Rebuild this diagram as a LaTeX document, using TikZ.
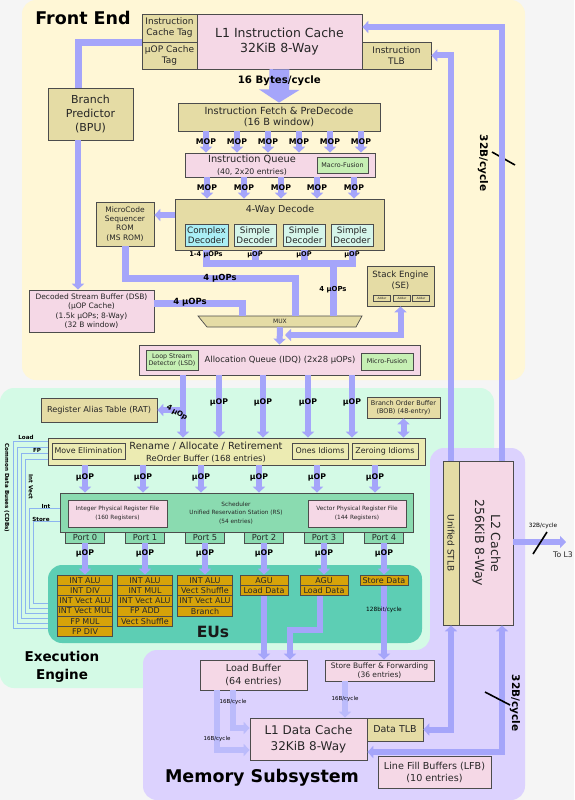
\documentclass[tikz,border=0pt]{standalone}
\usepackage{fontspec}
\setmainfont{DejaVu Sans}
\usetikzlibrary{arrows.meta}

\definecolor{frontbg}{HTML}{FFF7D6}
\definecolor{execbg}{HTML}{D4FAE6}
\definecolor{membg}{HTML}{DCD2FE}
\definecolor{boxpink}{HTML}{F5D8E6}
\definecolor{boxtan}{HTML}{E5DCA5}
\definecolor{boxrob}{HTML}{ECEBB2}
\definecolor{boxlime}{HTML}{C6EFB4}
\definecolor{boxcyan}{HTML}{AAEEF5}
\definecolor{boxmint}{HTML}{D5F5EA}
\definecolor{boxsched}{HTML}{8ADBB0}
\definecolor{eubg}{HTML}{5DCEB4}
\definecolor{eugold}{HTML}{D6A309}
\definecolor{flowc}{HTML}{A5A5FA}
\definecolor{cdbc}{HTML}{8CB4F0}

\newcommand{\fsz}[2]{\fontsize{#1}{#2}\selectfont}

\begin{document}
\begin{tikzpicture}[x=1pt, y=-1pt]
            \tikzset{box/.style = {draw=black!70, line width=0.7pt, inner sep=0pt, align=center, text=black!85}}
            \tikzset{sz/.style 2 args = {minimum width=#1pt, minimum height=#2pt}}
            \tikzset{pinkbox/.style = {box, fill=boxpink}}
            \tikzset{tanbox/.style = {box, fill=boxtan}}
            \tikzset{robbox/.style = {box, fill=boxrob}}
            \tikzset{limebox/.style = {box, fill=boxlime}}
            \tikzset{schedbox/.style = {box, fill=boxsched}}
            \tikzset{eubox/.style = {box, fill=eugold, sz={55}{10.3}, font=\fsz{8}{9}}}
            \tikzset{txt/.style = {inner sep=0pt, align=center, text=black!85}}
            \tikzset{title/.style = {inner sep=0pt, align=center, font=\bfseries\fsz{17.5}{19}}}
            \tikzset{flow/.style = {draw=flowc, line width=6pt, -{Triangle[length=6pt, width=12pt]}}}
            \tikzset{flowboth/.style = {draw=flowc, line width=6pt, {Triangle[length=6pt, width=12pt]}-{Triangle[length=6pt, width=12pt]}}}
            \tikzset{flowlt/.style = {flow, draw=flowc!75}}
            \tikzset{bus/.style = {draw=flowc, line width=7pt}}
            \tikzset{cdb/.style = {draw=cdbc, line width=0.8pt}}
            \tikzset{lbl/.style = {inner sep=0pt, font=\bfseries\fsz{7.8}{8}}}
            \tikzset{tinylbl/.style = {inner sep=0pt, font=\fsz{5.5}{6}}}
            \tikzset{slash/.style = {draw=black, line width=1.6pt}}

            \useasboundingbox (0,0) rectangle (574,800);
            \fill[black!4] (0,0) rectangle (574,800);

            % regions
            \fill[frontbg, rounded corners=14pt] (22,0) rectangle (525,380);
            \fill[execbg, rounded corners=14pt] (0,388) rectangle (494,688);
            \fill[membg, rounded corners=14pt] (430,448) -- (525,448) -- (525,800)
                -- (143,800) -- (143,650) -- (430,650) -- cycle;

            \node[title] (fe-t) at (83,18) {Front End};
            \node[title, font=\bfseries\fsz{13.5}{18}] (ee-t) at (62,667) {Execution\\Engine};
            \node[title] (ms-t) at (262,778) {Memory Subsystem};

            % front end boxes
            \node[tanbox, sz={55}{28}, font=\fsz{9}{11}] (ictag) at (169.5,28) {Instruction\\Cache Tag};
            \node[tanbox, sz={55}{27}, font=\fsz{9}{11}] (uoptag) at (169.5,55.5) {µOP Cache\\Tag};
            \node[pinkbox, sz={165}{55}, font=\fsz{12.5}{15}] (l1i) at (279.5,41.5) {L1 Instruction Cache\\32KiB 8-Way};
            \node[tanbox, sz={69}{27}, font=\fsz{9}{11}] (itlb) at (396.5,55.5) {Instruction\\TLB};
            \node[tanbox, sz={85}{52}, font=\fsz{11}{14}] (bpu) at (90.5,114) {Branch\\Predictor\\(BPU)};
            \node[tanbox, sz={202}{28}, font=\fsz{9.8}{11}] (fetch) at (279,117) {Instruction Fetch \& PreDecode\\(16 B window)};
            \node[pinkbox, sz={190}{24}] (iq) at (280,165) {};
            \node[txt] (iq-t) at (252,165) {{\fsz{9.8}{10}Instruction Queue}\\{\fsz{7.8}{8.5}(40, 2x20 entries)}};
            \node[limebox, sz={51}{16}, font=\fsz{6.4}{7}] (macrofus) at (342.5,165) {Macro-Fusion};
            \node[tanbox, sz={209}{51}] (decode) at (279.5,224.5) {};
            \node[txt, font=\fsz{9.5}{10}] (decode-t) at (280,210) {4-Way Decode};
            \node[box, fill=boxcyan, sz={43}{22}, font=\fsz{8.8}{10}] (cplx) at (206.5,235) {Complex\\Decoder};
            \node[box, fill=boxmint, sz={42}{22}, font=\fsz{8.8}{10}] (simp1) at (255,235) {Simple\\Decoder};
            \node[box, fill=boxmint, sz={42}{22}, font=\fsz{8.8}{10}] (simp2) at (304,235) {Simple\\Decoder};
            \node[box, fill=boxmint, sz={42}{22}, font=\fsz{8.8}{10}] (simp3) at (352,235) {Simple\\Decoder};
            \node[tanbox, sz={58}{44}, font=\fsz{7.5}{9.2}] (msrom) at (125,224) {MicroCode\\Sequencer\\ROM\\(MS ROM)};
            \node[pinkbox, sz={125}{42}, font=\fsz{7.5}{9.5}] (dsb) at (91.5,311) {Decoded Stream Buffer (DSB)\\(µOP Cache)\\(1.5k µOPs; 8-Way)\\(32 B window)};
            \fill[boxtan, draw=black!70, line width=0.7pt] (198,316) -- (362,316) -- (356,327) -- (207,327) -- cycle;
            \node[txt, sz={164}{11}, font=\fsz{6}{7}] (mux) at (280,321.5) {MUX};
            \node[tanbox, sz={67}{40}] (se) at (400.5,286) {};
            \node[txt, font=\fsz{8.6}{11}] (se-t) at (400.5,280.5) {Stack Engine\\(SE)};
            \foreach \x [count=\i] in {382,402,421}
                \node[tanbox, sz={17}{6}, line width=0.5pt, font=\fsz{3}{3}] (adder\i) at (\x,298) {Adder};
            \node[pinkbox, sz={281}{30}] (idq) at (279.5,360) {};
            \node[txt, font=\fsz{8.4}{9}] (idq-t) at (280,360) {Allocation Queue (IDQ) (2x28 µOPs)};
            \node[limebox, sz={52}{20}, font=\fsz{6.3}{7.5}] (lsd) at (172,360) {Loop Stream\\Detector (LSD)};
            \node[limebox, sz={52}{17}, font=\fsz{6.4}{7}] (microfus) at (387,361.5) {Micro-Fusion};

            % front end connectors
            \draw[flow, line width=20pt, -{Triangle[length=13pt, width=40pt]}] (l1i.south)
                -- node[pos=0.35, font=\bfseries\fsz{10.2}{11}] {16 Bytes/cycle} (fetch.north);
            \foreach \x in {206,237,268,299,330,361}
                \draw[flow] (fetch.south -| \x,0) -- node[lbl] {MOP} (iq.north -| \x,0);
            \foreach \x in {207,244,281,317,354}
                \draw[flow] (iq.south -| \x,0) -- node[lbl] {MOP} (decode.north -| \x,0);
            \draw[flow] (decode.west |- 0,215) -- (msrom.east |- 0,215);
            \draw[bus] (ictag.south west) -| (bpu.north -| 78,0);
            \draw[flow] (bpu.south -| 78,0) -- (dsb.north -| 78,0);
            \draw[bus] (cplx.south |- decode.south) |- (simp3.south |- 0,263) -- (simp3.south |- decode.south);
            \draw[bus] (simp1.south |- decode.south) -- (simp1.south |- 0,263);
            \draw[bus] (simp2.south |- decode.south) -- (simp2.south |- 0,263);
            \node[lbl, font=\bfseries\fsz{6.6}{7}] (dec-l0) at (206,255) {1-4 µOPs};
            \node[lbl, font=\bfseries\fsz{6.6}{7}] (dec-l1) at (255,255) {µOP};
            \node[lbl, font=\bfseries\fsz{6.6}{7}] (dec-l2) at (304,255) {µOP};
            \node[lbl, font=\bfseries\fsz{6.6}{7}] (dec-l3) at (352,255) {µOP};
            \coordinate (decbus) at (333,263);
            \draw[bus] (decbus) -- node[lbl, font=\bfseries\fsz{6.9}{7}] {4 µOPs} (mux.north -| decbus);
            \draw[bus] (msrom.south) |- (295,278) -- (mux.north -| 295,0);
            \node[lbl, font=\bfseries\fsz{8.4}{9}] (ms-l) at (220,278) {4 µOPs};
            \draw[bus] (dsb.east |- 0,303) -| (mux.north -| 242,0);
            \node[lbl, font=\bfseries\fsz{8.5}{9}] (dsb-l) at (190,302) {4 µOPs};
            \draw[flow] (mux.south) -- (idq.north);
            \coordinate (idqin) at (285,335);
            \draw[flowboth] (se.south) |- (idqin);
            \draw[slash] (492,152) -- (515,165);

            % execution engine boxes
            \node[tanbox, sz={116}{24}, font=\fsz{8.2}{9}] (rat) at (99,410) {Register Alias Table (RAT)};
            \node[tanbox, sz={73}{21}, font=\fsz{6.5}{8}] (bob) at (403.5,407.5) {Branch Order Buffer\\(BOB) (48-entry)};
            \node[robbox, sz={377}{27}] (rob) at (236.5,451.5) {};
            \node[txt] (rob-t) at (206,452) {{\fsz{9.8}{10}Rename / Allocate / Retirement}\\{\fsz{8.4}{9}ReOrder Buffer (168 entries)}};
            \node[robbox, sz={73}{16}, font=\fsz{7.9}{9}] (moveel) at (88.5,451) {Move Elimination};
            \node[robbox, sz={56}{16}, font=\fsz{7.9}{9}] (ones) at (320,451) {Ones Idioms};
            \node[robbox, sz={66}{16}, font=\fsz{7.9}{9}] (zeroing) at (385,451) {Zeroing Idioms};
            \node[schedbox, sz={353}{39}] (sched) at (236.5,512.5) {};
            \node[txt, font=\fsz{5.8}{8.5}] (sched-t) at (236,513) {Scheduler\\Unified Reservation Station (RS)\\(54 entries)};
            \node[pinkbox, sz={99}{27}, font=\fsz{5.8}{9}] (iprf) at (117.5,513.5) {Integer Physical Register File\\(160 Registers)};
            \node[pinkbox, sz={98}{27}, font=\fsz{5.8}{9}] (vprf) at (357,513.5) {Vector Physical Register File\\(144 Registers)};
            \foreach \n/\x in {0/85, 1/145, 5/205, 2/264, 3/324, 4/384}
                \node[schedbox, sz={39}{11}, font=\fsz{8.3}{9}] (p\n) at (\x,537.5) {Port \n};
            \node[fill=eubg, rounded corners=14pt, sz={374}{78}] (eureg) at (235,604) {};
            \node[title, font=\bfseries\fsz{15.5}{16}, text=black!90] (eus-t) at (213,632) {EUs};
            \foreach \t [count=\i] in {INT ALU, INT DIV, INT Vect ALU, INT Vect MUL, FP MUL, FP DIV}
                \node[eubox] (eu0-\i) at (85,569.85+10.3*\i) {\t};
            \foreach \t [count=\i] in {INT ALU, INT MUL, INT Vect ALU, FP ADD, Vect Shuffle}
                \node[eubox] (eu1-\i) at (145,569.85+10.3*\i) {\t};
            \foreach \t [count=\i] in {INT ALU, Vect Shuffle, INT Vect ALU, Branch}
                \node[eubox] (eu2-\i) at (205,569.85+10.3*\i) {\t};
            \foreach \t [count=\i] in {AGU, Load Data}
                \node[eubox, sz={48}{10.3}] (eu3-\i) at (264,569.85+10.3*\i) {\t};
            \foreach \t [count=\i] in {AGU, Load Data}
                \node[eubox, sz={48}{10.3}] (eu4-\i) at (324,569.85+10.3*\i) {\t};
            \node[eubox, sz={48}{10.3}] (eu5-1) at (384,580.15) {Store Data};

            % execution engine connectors
            \foreach \x in {219,263,308,352}
                \draw[flow] (idq.south -| \x,0) -- node[lbl, pos=0.43] {µOP} (rob.north -| \x,0);
            \draw[flow] (idq.south -| 183,0) -- (rob.north -| 183,0);
            \draw[flow] (idq.south -| 183,0) |- (rat.east);
            \node[lbl, font=\bfseries\fsz{7.2}{8}, rotate=-30] (rat-l) at (177,413) {4\,µOp};
            \draw[flowboth] (bob.south) -- (rob.north -| bob.south);
            \foreach \x in {85,143,201,259,317,375}
                \draw[flow] (rob.south -| \x,0) -- node[lbl, pos=0.43] {µOP} (sched.north -| \x,0);
            \foreach \p/\e in {p0/eu0-1, p1/eu1-1, p5/eu2-1, p2/eu3-1, p3/eu4-1, p4/eu5-1}
                \draw[flow] (\p.south) -- node[lbl, pos=0.32] {µOP} (\e.north);
            \foreach \ya/\xa/\yb in {441/13/628, 447/17/623, 453/21/618, 459/25/613}
                \draw[cdb] (rob.west |- 0,\ya) -| (\xa,\yb) -- (eureg.west |- 0,\yb);
            \foreach \ya/\xa/\yb in {508/29/608, 521/33/603}
                \draw[cdb] (sched.west |- 0,\ya) -| (\xa,\yb) -- (eureg.west |- 0,\yb);
            \node[lbl, font=\bfseries\fsz{5.6}{6}] (cdb-load) at (26,437) {Load};
            \node[lbl, font=\bfseries\fsz{5.6}{6}] (cdb-fp) at (37,450) {FP};
            \node[lbl, font=\bfseries\fsz{5.6}{6}, rotate=-90] (cdb-iv) at (31,487) {Int Vect};
            \node[lbl, font=\bfseries\fsz{5.6}{6}] (cdb-int) at (46,506) {Int};
            \node[lbl, font=\bfseries\fsz{5.6}{6}] (cdb-st) at (41,519) {Store};
            \node[lbl, font=\bfseries\fsz{5.6}{6}, rotate=-90] (cdb-t) at (7,488) {Common Data Buses (CDBs)};

            % memory subsystem boxes
            \node[pinkbox, sz={107}{30}, font=\fsz{9.6}{13}] (loadbuf) at (253.5,675) {Load Buffer\\(64 entries)};
            \node[pinkbox, sz={109}{21}, font=\fsz{7.5}{9}] (storebuf) at (379.5,670.5) {Store Buffer \& Forwarding\\(36 entries)};
            \node[pinkbox, sz={117}{42}, font=\fsz{12}{16}] (l1d) at (308.5,739) {L1 Data Cache\\32KiB 8-Way};
            \node[tanbox, sz={56}{23}, font=\fsz{9.5}{10}] (dtlb) at (395,729.5) {Data TLB};
            \node[pinkbox, sz={113}{32}, font=\fsz{9.6}{12}] (lfb) at (434.5,772) {Line Fill Buffers (LFB)\\(10 entries)};
            \node[tanbox, sz={16}{164}] (stlb) at (451,543) {};
            \node[txt, rotate=-90, font=\fsz{9}{10}] (stlb-t) at (451,543) {Unified STLB};
            \node[pinkbox, sz={54}{164}] (l2) at (486,543) {};
            \node[txt, rotate=-90, font=\fsz{12.5}{16}] (l2-t) at (486.5,543) {L2 Cache\\256KiB 8-Way};
            \coordinate (tol3) at (566,542);
            \node[txt, font=\fsz{7.7}{8}] (l3-t) at (563,555) {To L3};

            % memory subsystem connectors
            \draw[flow] (eu3-2.south) -- (loadbuf.north -| eu3-2.south);
            \draw[flow] (eu4-2.south -| 320,0) |- (290,630) -- (loadbuf.north -| 290,0);
            \draw[flow] (eu5-1.south) -- node[tinylbl, pos=0.33, font=\fsz{5.8}{6}] {128bit/cycle} (storebuf.north -| eu5-1.south);
            \draw[flowlt] (loadbuf.south -| 233,0) |- node[tinylbl, pos=0.15] {16B/cycle} (l1d.west |- 0,728);
            \draw[flowlt] (loadbuf.south -| 217,0) |- node[tinylbl, pos=0.41] {16B/cycle} (l1d.west |- 0,750);
            \draw[flowlt] (storebuf.south -| 345,0) -- node[tinylbl, pos=0.49] {16B/cycle} (l1d.north -| 345,0);
            \draw[flow] (stlb.north) |- (itlb.east);
            \draw[flow] (l2.north -| 502,0) |- (l1i.east |- 0,27);
            \draw[flowboth] (stlb.south) |- (dtlb.east);
            \draw[flowboth] (l2.south -| 502,0) |- (l1d.east |- 0,752);
            \draw[flow] (l2.east |- tol3) -- (tol3);
            \node[lbl, font=\bfseries\fsz{10.5}{11}, rotate=-90] (l2i-l) at (483,163) {32B/cycle};
            \node[lbl, font=\bfseries\fsz{10.5}{11}, rotate=-90] (l2d-l) at (515,703) {32B/cycle};
            \node[tinylbl, font=\fsz{5.8}{6}] (l3-l) at (543,526) {32B/cycle};
            \draw[slash] (485,692) -- (510,705);
            \draw[slash] (533,554) -- (547,532);

\end{tikzpicture}
\end{document}
